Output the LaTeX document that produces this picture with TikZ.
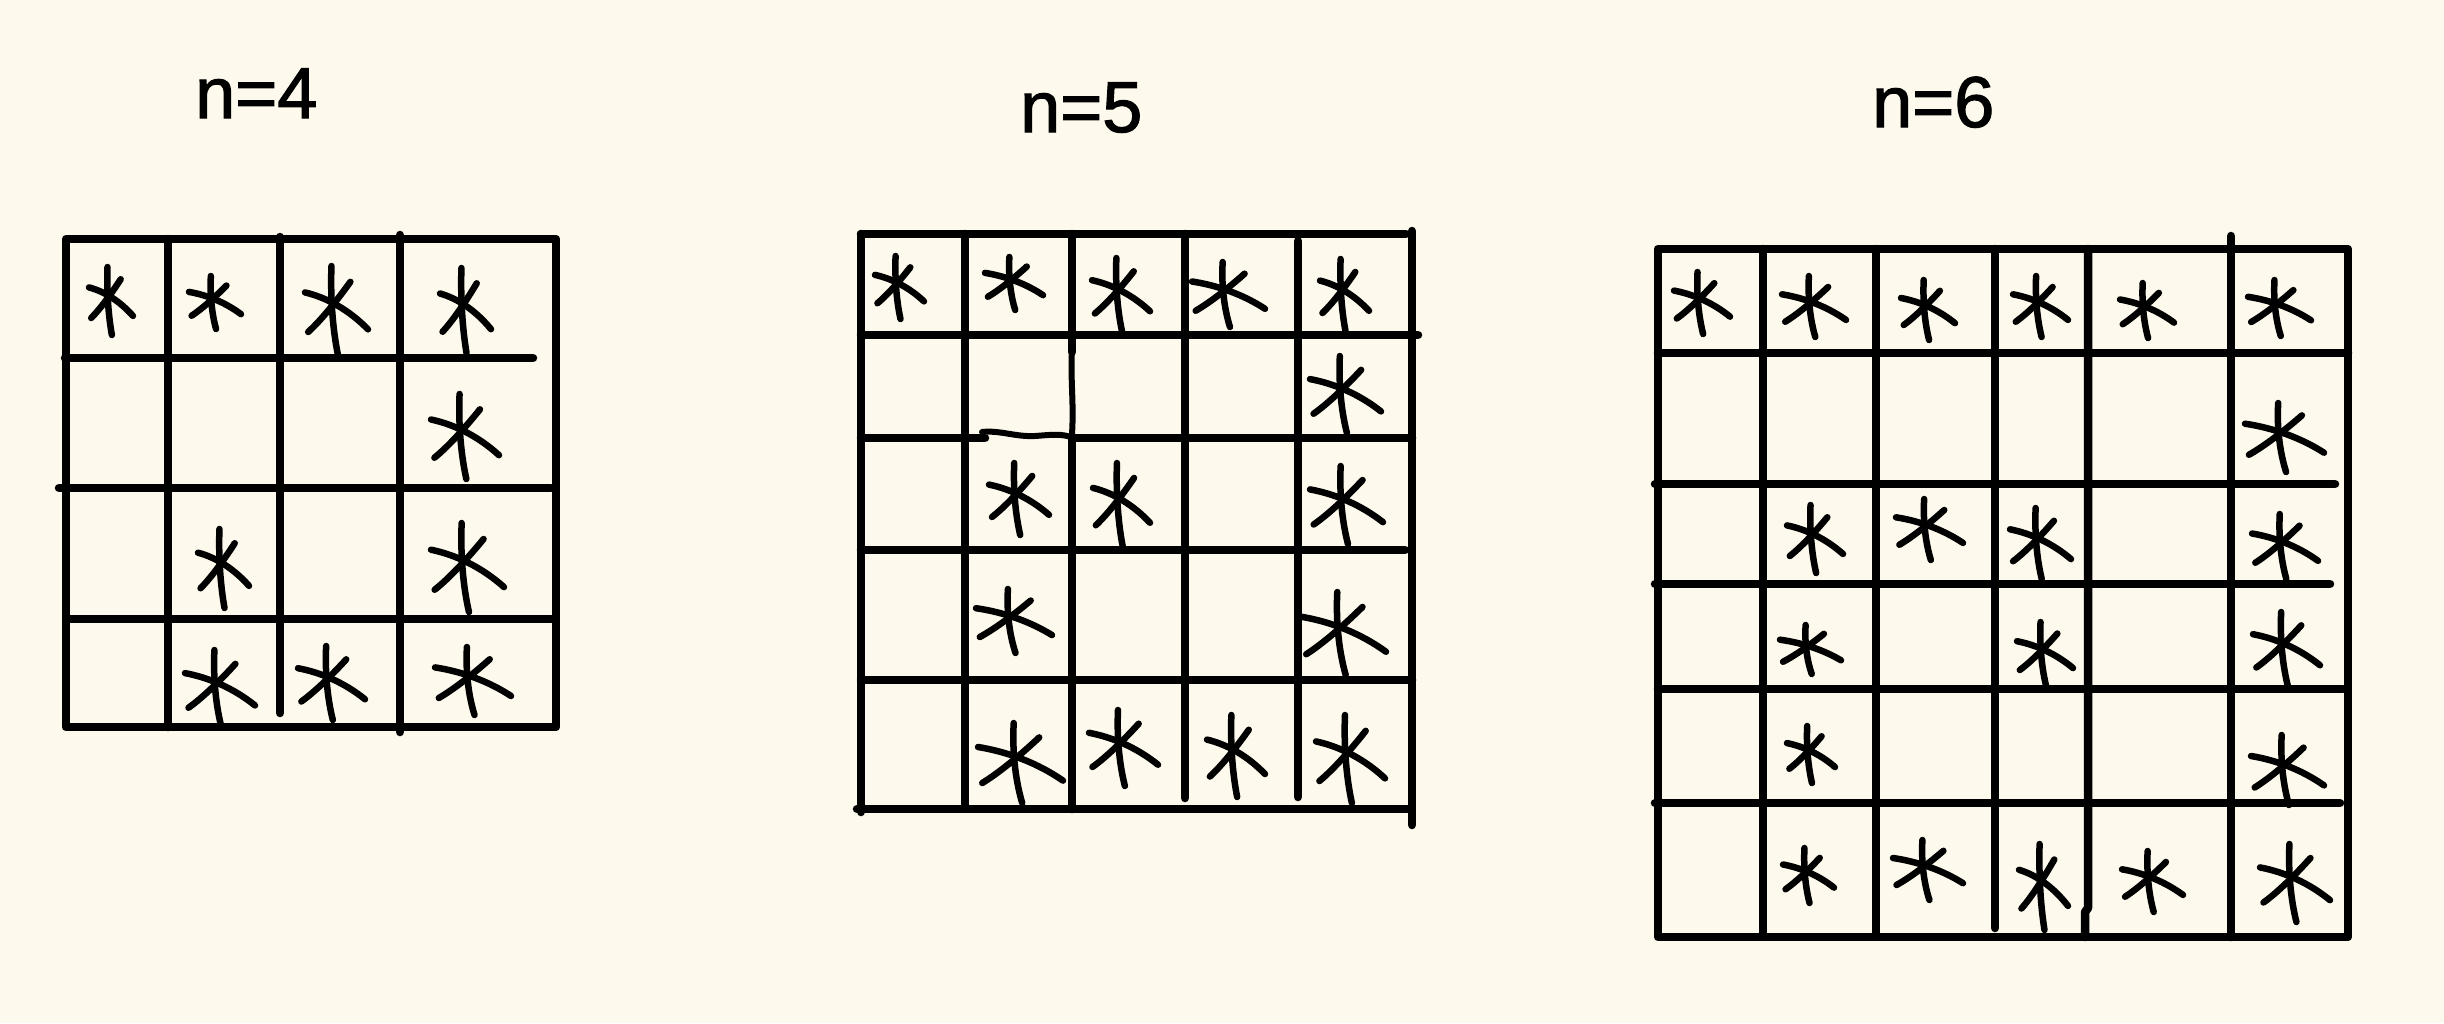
\documentclass[tikz,border=0pt]{standalone}
\usepackage{fontspec}
\setmainfont{Liberation Sans}
\newfontfamily\handfont[FakeBold=1.6]{Liberation Sans}
\definecolor{paper}{RGB}{253,249,236}
\tikzset{
  gridline/.style={line width=8.5pt, line cap=round, line join=round},
  thinline/.style={line width=6pt, line cap=round, line join=round},
  starstroke/.style={line width=6.5pt, line cap=round},
  lbl/.style={font=\handfont\fontsize{72}{72}\selectfont, inner sep=0pt, anchor=base west},
}
\newcommand\hs[4]{%
  \begin{scope}[shift={(#1,#2)}, xscale={#3-#1}, yscale={#4-#2}]
    \draw[starstroke] (0.42,0) .. controls (0.40,0.4) and (0.45,0.75) .. (0.52,1);
    \draw[starstroke] (0,0.3) .. controls (0.35,0.36) and (0.7,0.5) .. (1,0.72);
    \draw[starstroke] (0.05,0.75) .. controls (0.25,0.62) and (0.5,0.4) .. (0.72,0.18);
  \end{scope}}
\begin{document}
\begin{tikzpicture}[x=1pt,y=-1pt]
\fill[paper] (0,0) rectangle (2444,1023);
\useasboundingbox (0,0) rectangle (2444,1023);

% labels
\node[lbl] (l4) at (195,118) {n=4};
\node[lbl] (l5) at (1020,132) {n=5};
\node[lbl] (l6) at (1872,127) {n=6};

% ---------- grid n=4 ----------
\draw[gridline] (66,239) rectangle (556,727);
\draw[gridline] (65,358) -- (533,358);
\draw[gridline] (59,488) -- (551,488);
\draw[gridline] (68,619) -- (553,619);
\draw[gridline] (168,239) -- (168,727);
\draw[gridline] (280,237) -- (280,713);
\draw[gridline] (400,235) -- (400,732);

\hs{89}{267}{133}{335}
\hs{189}{276}{241}{329}
\hs{305}{266}{368}{354}
\hs{440}{268}{491}{353}
\hs{431}{394}{499}{479}
\hs{198}{529}{249}{608}
\hs{431}{523}{504}{612}
\hs{185}{650}{255}{727}
\hs{298}{646}{365}{720}
\hs{435}{647}{511}{715}

% ---------- grid n=5 ----------
\draw[gridline] (861,234) -- (861,812);
\draw[gridline] (861,234) -- (1406,234);
\draw[gridline] (1412,231) -- (1412,825);
\draw[gridline] (857,809) -- (1410,809);
\draw[gridline] (861,335) -- (1418,335);
\draw[gridline] (861,438) -- (985,438);
\draw[thinline] (982,432) .. controls (1000,430) and (1015,437) .. (1035,436) .. controls (1050,435) and (1062,433) .. (1073,438);
\draw[gridline] (1072,438) -- (1412,438);
\draw[gridline] (861,550) -- (1405,550);
\draw[gridline] (861,680) -- (1412,680);
\draw[gridline] (965,234) -- (965,805);
\draw[gridline] (1072,234) -- (1072,352);
\draw[thinline] (1072,350) .. controls (1070,380) and (1075,410) .. (1071,445);
\draw[gridline] (1072,440) -- (1072,809);
\draw[gridline] (1185,234) -- (1185,798);
\draw[gridline] (1298,241) -- (1298,797);

\hs{875}{256}{924}{319}
\hs{985}{257}{1043}{310}
\hs{1092}{258}{1150}{332}
\hs{1192}{262}{1265}{327}
\hs{1320}{259}{1369}{331}
\hs{1310}{356}{1381}{433}
\hs{989}{463}{1049}{535}
\hs{1093}{463}{1150}{546}
\hs{1310}{466}{1383}{544}
\hs{976}{589}{1052}{653}
\hs{1302}{592}{1386}{675}
\hs{978}{723}{1063}{803}
\hs{1089}{710}{1158}{786}
\hs{1207}{715}{1265}{797}
\hs{1316}{715}{1385}{803}

% ---------- grid n=6 ----------
\draw[gridline] (1658,249) rectangle (2348,937);
\draw[gridline] (1658,353) -- (2348,353);
\draw[gridline] (1655,484) -- (2335,484);
\draw[gridline] (1655,584) -- (2330,584);
\draw[gridline] (1658,689) -- (2343,689);
\draw[gridline] (1655,803) -- (2340,803);
\draw[gridline] (1763,249) -- (1763,935);
\draw[gridline] (1876,249) -- (1876,935);
\draw[gridline] (1995,249) -- (1995,928);
\draw[gridline] (2088,249) -- (2088,908) -- (2085,912) -- (2085,937);
\draw[gridline] (2231,236) -- (2231,937);

\hs{1674}{272}{1730}{334}
\hs{1782}{276}{1846}{337}
\hs{1901}{280}{1955}{340}
\hs{2013}{276}{2068}{337}
\hs{2120}{283}{2174}{338}
\hs{2248}{280}{2311}{336}
\hs{2245}{403}{2324}{472}
\hs{1787}{505}{1843}{573}
\hs{1896}{499}{1963}{560}
\hs{2010}{508}{2071}{579}
\hs{2252}{514}{2318}{579}
\hs{1780}{625}{1841}{674}
\hs{2017}{622}{2073}{686}
\hs{2253}{612}{2320}{686}
\hs{1787}{726}{1835}{783}
\hs{2251}{735}{2324}{805}
\hs{1783}{848}{1834}{903}
\hs{1893}{840}{1963}{900}
\hs{2019}{844}{2068}{930}
\hs{2122}{851}{2183}{912}
\hs{2260}{844}{2330}{922}
\end{tikzpicture}
\end{document}
